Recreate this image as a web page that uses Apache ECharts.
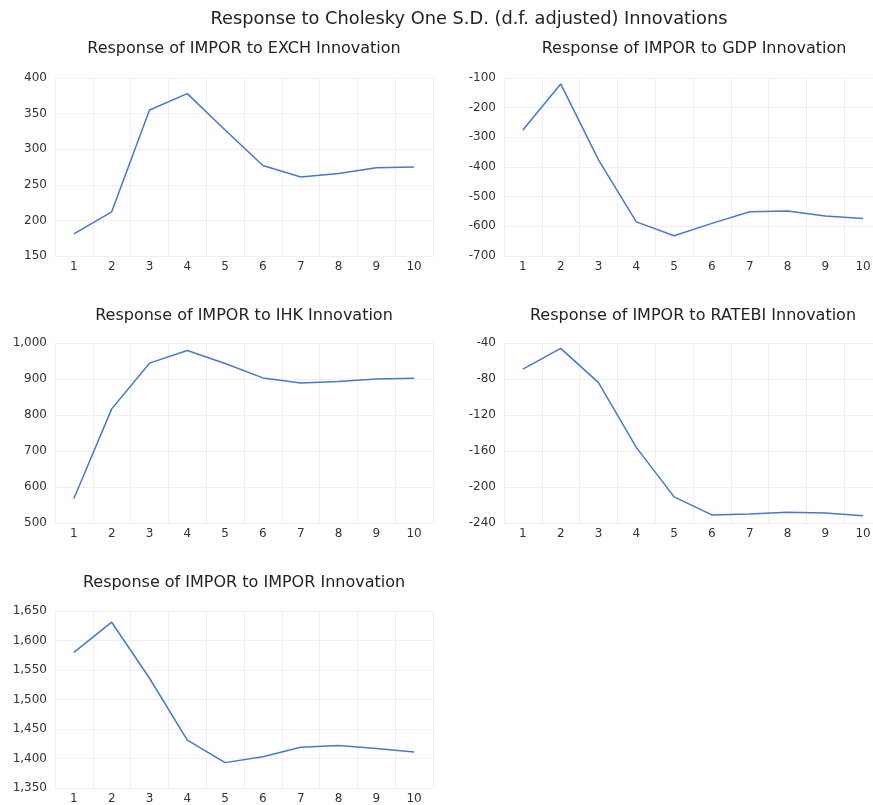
<!DOCTYPE html>
<html>
<head>
<meta charset="utf-8">
<script src="https://cdn.jsdelivr.net/npm/echarts@6/dist/echarts.min.js"></script>
<style>
html, body { margin: 0; padding: 0; background: #fff; overflow: hidden; }
#chartDiv { width: 890px; height: 805px; }
</style>
</head>
<body>
<div id="chartDiv"></div>
<script>
// 初始化图表
let myChart = echarts.init(document.getElementById('chartDiv'));
window.onresize = myChart.resize;

// 数据
let periods = ['1', '2', '3', '4', '5', '6', '7', '8', '9', '10'];
let exchValues = [181, 212, 355, 378, 327, 277, 261, 266, 274, 275];
let gdpValues = [-275, -120, -376, -585, -632, -590, -551, -548, -565, -574];
let ihkValues = [568, 817, 944, 979, 943, 903, 889, 893, 900, 902];
let ratebiValues = [-69, -46, -84, -156, -211, -231, -230, -228, -229, -232];
let imporValues = [1580, 1631, 1536, 1431, 1393, 1403, 1419, 1422, 1417, 1411];

let panelTitles = [
    'Response of IMPOR to EXCH Innovation',
    'Response of IMPOR to GDP Innovation',
    'Response of IMPOR to IHK Innovation',
    'Response of IMPOR to RATEBI Innovation',
    'Response of IMPOR to IMPOR Innovation'
];
let panelData = [exchValues, gdpValues, ihkValues, ratebiValues, imporValues];
let yMin = [150, -700, 500, -240, 1350];
let yMax = [400, -100, 1000, -40, 1650];
let yStep = [50, 100, 100, 40, 50];

// 布局 (右列图表略超出画面，与原图一致)
let grids = [
    {left: 55, top: 78, width: 378, height: 178},
    {left: 504, top: 78, width: 378, height: 178},
    {left: 55, top: 343, width: 378, height: 180},
    {left: 504, top: 343, width: 378, height: 180},
    {left: 55, top: 611, width: 378, height: 177}
];
let titlePos = [
    {left: 239, top: 36},
    {left: 689, top: 36},
    {left: 239, top: 303},
    {left: 688, top: 303},
    {left: 239, top: 570}
];

let fontName = '"DejaVu Sans", sans-serif';
let lineColor = '#4a78c8';

let titles = [{
    text: 'Response to Cholesky One S.D. (d.f. adjusted) Innovations',
    left: 464,
    top: 5,
    textAlign: 'center',
    textStyle: {color: '#222', fontSize: 17.8, fontWeight: 'normal', fontFamily: fontName}
}];
let xAxes = [], yAxes = [], series = [];
for (let i = 0; i < panelData.length; i++) {
    titles.push({
        text: panelTitles[i],
        left: titlePos[i].left,
        top: titlePos[i].top,
        textAlign: 'center',
        textStyle: {color: '#222', fontSize: 16, fontWeight: 'normal', fontFamily: fontName}
    });
    xAxes.push({
        type: 'category',
        gridIndex: i,
        data: periods,
        boundaryGap: true,
        axisLine: {show: false},
        axisTick: {show: false},
        axisLabel: {color: '#333', fontSize: 12, fontFamily: fontName, margin: 5},
        splitLine: {show: true, lineStyle: {color: '#efefef', width: 1}}
    });
    yAxes.push({
        type: 'value',
        gridIndex: i,
        min: yMin[i],
        max: yMax[i],
        interval: yStep[i],
        axisLine: {show: false},
        axisTick: {show: false},
        axisLabel: {
            color: '#333', fontSize: 12, fontFamily: fontName, margin: 8,
            padding: [0, 0, 6, 0],
            formatter: function (v) { return v.toLocaleString('en-US'); }
        },
        splitLine: {show: true, lineStyle: {color: '#efefef', width: 1}}
    });
    series.push({
        type: 'line',
        xAxisIndex: i,
        yAxisIndex: i,
        data: panelData[i],
        showSymbol: false,
        symbol: 'none',
        lineStyle: {color: lineColor, width: 1.5},
        animation: false
    });
}

// 图表设置
let option = {
    backgroundColor: '#ffffff',
    animation: false,
    title: titles,
    grid: grids,
    xAxis: xAxes,
    yAxis: yAxes,
    series: series
};
myChart.setOption(option);
</script>
</body>
</html>
